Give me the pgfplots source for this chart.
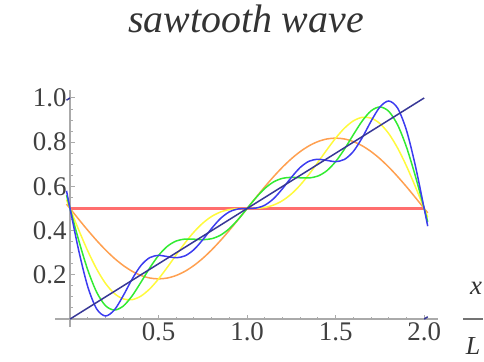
\documentclass[border=0pt]{standalone}
\usepackage{pgfplots}
\pgfplotsset{compat=1.18}
\usepackage{fontspec}
\setmainfont{Liberation Serif}
\definecolor{cred}{RGB}{255,110,110}
\definecolor{corange}{RGB}{255,160,80}
\definecolor{cyellow}{RGB}{255,250,60}
\definecolor{cgreen}{RGB}{50,235,50}
\definecolor{cblue}{RGB}{60,60,240}
\definecolor{cnavy}{RGB}{55,55,150}
\definecolor{axgray}{RGB}{170,170,170}
\begin{document}
\begin{tikzpicture}
\useasboundingbox (-55bp,-35bp) rectangle (429bp,327bp);
\begin{axis}[
  at={(0,0)}, anchor=south west,
  scale only axis, width=383bp, height=237bp,
  xmin=-0.085, xmax=2.078, ymin=-0.036, ymax=1.036,
  axis lines=middle,
  axis line style={axgray, line width=1.2bp, -},
  xtick={0.5,1.0,1.5,2.0},
  xticklabels={0.5,1.0,1.5,2.0},
  ytick={0.2,0.4,0.6,0.8,1.0},
  yticklabels={0.2,0.4,0.6,0.8,1.0},
  minor xtick={0.1,0.2,0.3,0.4,0.6,0.7,0.8,0.9,1.1,1.2,1.3,1.4,1.6,1.7,1.8,1.9},
  minor ytick={0.05,0.1,0.15,0.25,0.3,0.35,0.45,0.5,0.55,0.65,0.7,0.75,0.85,0.9,0.95},
  tick align=inside,
  major tick length=4.5bp, minor tick length=2.5bp,
  every tick/.style={axgray, line width=1bp},
  ticklabel style={font=\fontsize{27}{29}\selectfont, text=black!75},
  /pgf/number format/assume math mode=true,
  clip=false,
  every axis plot/.append style={line width=1.5bp},
]
\addplot[cred, line width=2.4bp] coordinates {(0,0.5) (2,0.5)};
\addplot[corange, smooth] coordinates {
(-0.02,0.52) (0,0.5) (0.05,0.4502) (0.1,0.4016) (0.15,0.3555) (0.2,0.3129) (0.25,0.2749) (0.3,0.2425) (0.35,0.2164) (0.4,0.1973) (0.45,0.1856) (0.5,0.1817) (0.55,0.1856) (0.6,0.1973) (0.65,0.2164) (0.7,0.2425) (0.75,0.2749) (0.8,0.3129) (0.85,0.3555) (0.9,0.4016) (0.95,0.4502) (1,0.5) (1.05,0.5498) (1.1,0.5984) (1.15,0.6445) (1.2,0.6871) (1.25,0.7251) (1.3,0.7575) (1.35,0.7836) (1.4,0.8027) (1.45,0.8144) (1.5,0.8183) (1.55,0.8144) (1.6,0.8027) (1.65,0.7836) (1.7,0.7575) (1.75,0.7251) (1.8,0.6871) (1.85,0.6445) (1.9,0.5984) (1.95,0.5498) (2,0.5) (2.02,0.48)};
\addplot[cyellow, smooth] coordinates {
(-0.02,0.54) (0,0.5) (0.05,0.4010) (0.1,0.3081) (0.15,0.2267) (0.2,0.1615) (0.25,0.1158) (0.3,0.0911) (0.35,0.0876) (0.4,0.1037) (0.45,0.1364) (0.5,0.1817) (0.55,0.2348) (0.6,0.2908) (0.65,0.3451) (0.7,0.3939) (0.75,0.4341) (0.8,0.4643) (0.85,0.4842) (0.9,0.4952) (0.95,0.4994) (1,0.5) (1.05,0.5006) (1.1,0.5048) (1.15,0.5158) (1.2,0.5357) (1.25,0.5659) (1.3,0.6061) (1.35,0.6549) (1.4,0.7092) (1.45,0.7652) (1.5,0.8183) (1.55,0.8636) (1.6,0.8963) (1.65,0.9124) (1.7,0.9089) (1.75,0.8842) (1.8,0.8385) (1.85,0.7733) (1.9,0.6919) (1.95,0.5990) (2,0.5) (2.02,0.46)};
\addplot[cgreen, smooth] coordinates {
(-0.02,0.56) (0,0.5) (0.05,0.3529) (0.1,0.2222) (0.15,0.1219) (0.2,0.0606) (0.25,0.0407) (0.3,0.0583) (0.35,0.1042) (0.4,0.1661) (0.45,0.2310) (0.5,0.2878) (0.55,0.3293) (0.6,0.3532) (0.65,0.3617) (0.7,0.3611) (0.75,0.3591) (0.8,0.3634) (0.85,0.3795) (0.9,0.4093) (0.95,0.4512) (1,0.5) (1.05,0.5488) (1.1,0.5907) (1.15,0.6205) (1.2,0.6366) (1.25,0.6409) (1.3,0.6389) (1.35,0.6383) (1.4,0.6468) (1.45,0.6707) (1.5,0.7122) (1.55,0.7690) (1.6,0.8339) (1.65,0.8958) (1.7,0.9417) (1.75,0.9593) (1.8,0.9394) (1.85,0.8781) (1.9,0.7778) (1.95,0.6471) (2,0.5) (2.02,0.44)};
\addplot[cblue, smooth] coordinates {
(-0.02,0.58) (0,0.5) (0.05,0.3061) (0.1,0.1465) (0.15,0.0462) (0.2,0.0138) (0.25,0.0407) (0.3,0.1051) (0.35,0.1799) (0.4,0.2418) (0.45,0.2778) (0.5,0.2878) (0.55,0.2825) (0.6,0.2775) (0.65,0.2860) (0.7,0.3143) (0.75,0.3591) (0.8,0.4102) (0.85,0.4551) (0.9,0.4850) (0.95,0.4980) (1,0.5) (1.05,0.5020) (1.1,0.5150) (1.15,0.5449) (1.2,0.5898) (1.25,0.6409) (1.3,0.6857) (1.35,0.7140) (1.4,0.7225) (1.45,0.7175) (1.5,0.7122) (1.55,0.7222) (1.6,0.7582) (1.65,0.8201) (1.7,0.8949) (1.75,0.9593) (1.8,0.9862) (1.85,0.9538) (1.9,0.8535) (1.95,0.6939) (2,0.5) (2.02,0.42)};
\addplot[cnavy] coordinates {(-0.02,0.99) (0,1.0)};
\addplot[cnavy] coordinates {(0,0) (2,1)};
\addplot[cnavy] coordinates {(2,0) (2.02,0.01)};
\end{axis}
\node[font=\fontsize{40}{42}\selectfont\itshape, text=black!80] at (191bp,308bp) {sawtooth wave};
\node[font=\fontsize{27}{29}\selectfont\itshape, text=black!80] at (421bp,39bp) {x};
\draw[black!55, line width=1.4bp] (408bp,8bp) -- (428bp,8bp);
\node[font=\fontsize{26}{28}\selectfont\itshape, text=black!80] at (418bp,-19bp) {L};
\end{tikzpicture}
\end{document}
